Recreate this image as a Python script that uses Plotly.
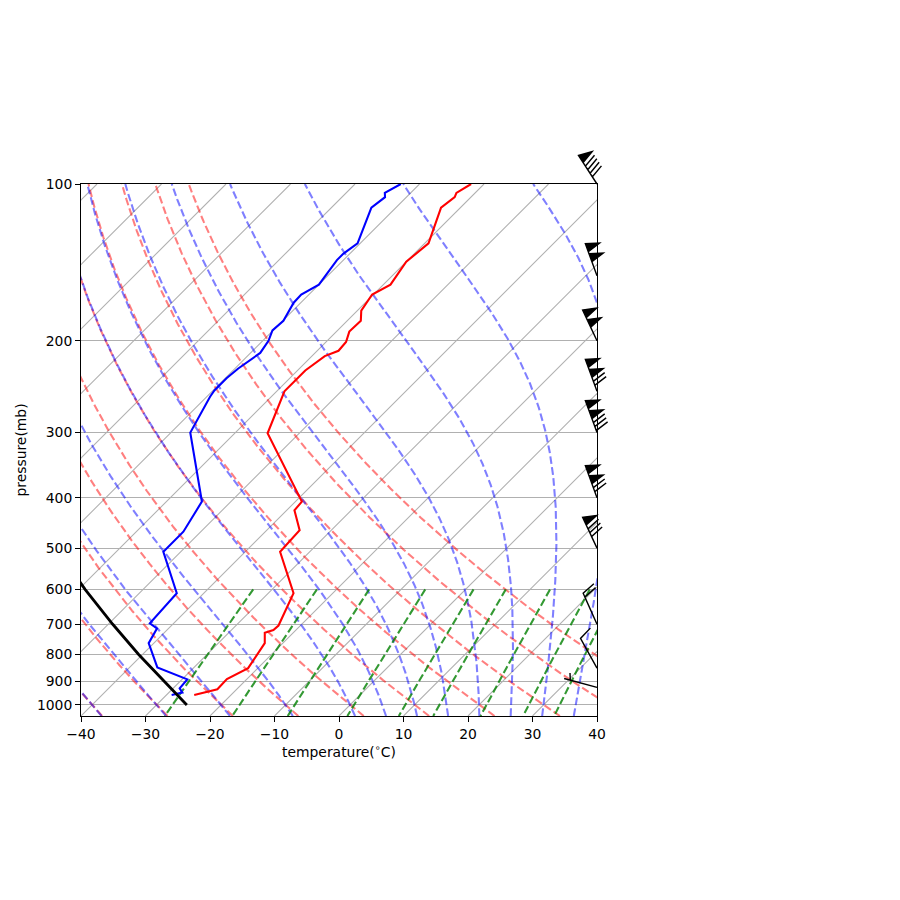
import numpy as np
import plotly.graph_objects as go

# ---------------- data ----------------
temp_p = [957, 933, 892, 850, 761, 727, 718, 704, 610, 508, 462, 423, 407, 301, 250, 228,
          214, 209, 201, 192, 183, 175, 163, 156, 141, 130, 111, 106, 104, 100]
temp_c = [-25.7, -23.0, -23.1, -21.5, -22.8, -24.4, -23.5, -23.4, -26.1, -34.6, -34.9, -38.8,
          -39.0, -54.9, -58.8, -58.8, -58.0, -56.7, -56.9, -58.0, -57.9, -59.4, -60.2, -58.9,
          -60.0, -59.4, -63.0, -62.5, -62.9, -62.0]

dewp_p = [957, 947, 929, 893, 847, 761, 713, 697, 610, 508, 465, 407, 300, 256, 249, 236,
          226, 211, 200, 191, 183, 169, 163, 156, 140, 136, 130, 111, 106, 104, 100]
dewp_c = [-29.2, -27.9, -29.0, -29.2, -35.7, -40.8, -41.8, -43.7, -44.2, -52.7, -52.7, -54.5,
          -67.0, -69.5, -69.8, -69.8, -69.5, -68.5, -69.1, -70.1, -69.9, -71.1, -71.2, -70.0,
          -71.0, -71.0, -70.4, -73.8, -73.3, -74.0, -72.9]

parcel_p = [1000, 900, 800, 700, 600, 500]
parcel_c = [-25.3, -32.6, -40.6, -49.3, -59.0, -69.8]

barb_p = [100, 150, 200, 250, 300, 400, 500, 700, 850, 925]
barb_kt = [90, 100, 100, 120, 130, 120, 80, 20, 10, 5]
barb_dir = [327, 340, 335, 340, 340, 340, 335, 336, 331, 285]

x_ticks = [-40, -30, -20, -10, 0, 10, 20, 30, 40]
y_ticks = [100, 200, 300, 400, 500, 600, 700, 800, 900, 1000]

isotherm_t = list(range(-120, 41, 10))
dry_t0 = [-40, -30, -20, -10, 0, 10, 20, 30, 40, 50]
moist_t0 = [-40, -30, -20, -10, 0, 5, 10, 15, 20, 25, 30, 35, 40, 45, 50]
mix_w = [0.0004, 0.001, 0.002, 0.004, 0.007, 0.01, 0.016, 0.024, 0.032]

# ---------------- geometry ----------------
W = H = 900
PAGE_OFF = 8                      # default body margin of the html page
ML, MT, PW, PH = 81 - PAGE_OFF, 184 - PAGE_OFF, 516, 532
XMIN, XMAX = -40, 40
PBOT, PTOP = 1050.0, 100.0
SKEW = (XMAX - XMIN) * PH / PW      # 45 degree skew in screen space

def ya(p):
    return np.log10(PBOT / np.asarray(p, float)) / np.log10(PBOT / PTOP)

def sx(t, p):
    return np.asarray(t, float) + SKEW * ya(p)

# thermodynamic helpers for reference lines
RD, CP, LV, EPS = 287.04749, 1004.6662, 2.50084e6, 0.6219569
KAPPA = RD / CP

def sat_mr(p, t):
    es = 6.112 * np.exp(17.67 * (t - 273.15) / (t - 29.65))
    return EPS * es / (p - es)

def dtdp(p, t):
    rs = sat_mr(p, t)
    return (RD * t + LV * rs) / (CP + LV * LV * rs * EPS / (RD * t * t)) / p

def moist_lapse(pgrid, t0k, pref=1000.0):
    i0 = int(np.argmin(np.abs(pgrid - pref)))
    out = np.zeros((len(t0k), len(pgrid)))
    out[:, i0] = t0k
    for rng in (range(i0, len(pgrid) - 1), range(i0, 0, -1)):
        for i in rng:
            j = i + 1 if rng.step > 0 else i - 1
            p, t = pgrid[i], out[:, i]
            h = pgrid[j] - p
            k1 = dtdp(p, t)
            k2 = dtdp(p + h / 2, t + h / 2 * k1)
            k3 = dtdp(p + h / 2, t + h / 2 * k2)
            k4 = dtdp(p + h, t + h * k3)
            out[:, j] = t + h / 6 * (k1 + 2 * k2 + 2 * k3 + k4)
    return out

fig = go.Figure()

def add_line(t, p, color, width, dash="solid"):
    fig.add_trace(go.Scatter(x=sx(t, p), y=np.asarray(p, float), mode="lines",
                             line=dict(color=color, width=width, dash=dash),
                             hoverinfo="skip", showlegend=False))

# isotherm grid
for t in isotherm_t:
    add_line([t, t], [PBOT, PTOP], "#b0b0b0", 1.1)

DASH = "7.7px,3.3px"
pg = np.linspace(PBOT, PTOP, 951)
# dry adiabats
for t0 in dry_t0:
    tt = (t0 + 273.15) * (pg / 1000.0) ** KAPPA - 273.15
    add_line(tt, pg, "rgba(255,0,0,0.5)", 2.08, DASH)
# moist adiabats
ml = moist_lapse(pg, np.array(moist_t0, float) + 273.15) - 273.15
for row in ml:
    add_line(row, pg, "rgba(0,0,255,0.5)", 2.08, DASH)
# mixing ratio lines
pm = np.linspace(600, PBOT, 50)
for w in mix_w:
    e = pm * w / (EPS + w)
    val = np.log(e / 6.112)
    td = 243.5 * val / (17.67 - val)
    add_line(td, pm, "rgba(0,128,0,0.8)", 2.08, DASH)

# sounding
add_line(temp_c, temp_p, "#ff0000", 2.08)
add_line(dewp_c, dewp_p, "#0000ff", 2.08)
add_line(parcel_c, parcel_p, "#000000", 2.78)

# ---------------- wind barbs (matplotlib geometry) ----------------
K = 3.5 * 100 / 72.0
BL = 7 * K
SP, BH, BW = 0.125 * BL, 0.4 * BL, 0.25 * BL

def barb_verts(u, v):
    mag = 5 * np.round(np.hypot(u, v) / 5)
    nflag = int(mag // 50); mag -= nflag * 50
    nbarb = int(mag // 10); mag -= nbarb * 10
    half = mag >= 5
    verts = [(0.0, 0.0)]
    off = BL
    for i in range(nflag):
        if off != BL:
            off += SP / 2
        verts += [(0, off), (BH, off - BW / 2), (0, off - BW)]
        off -= BW + SP
    for i in range(nbarb):
        verts += [(0, off), (BH, off + BW / 2), (0, off)]
        off -= SP
    if half:
        if off == BL:
            verts.append((0, off))
            off -= 1.5 * SP
        verts += [(0, off), (BH / 2, off + BW / 4), (0, off)]
    ang = np.arctan2(v, u) + np.pi / 2
    c, s = np.cos(ang), np.sin(ang)
    return [(x * c - y * s, x * s + y * c) for x, y in verts]

shapes = []
for p, spd, d in zip(barb_p, barb_kt, barb_dir):
    u = -spd * np.sin(np.radians(d))
    v = -spd * np.cos(np.radians(d))
    y0 = float(ya(p))
    pts = [(1 + x / PW, y0 + y / PH) for x, y in barb_verts(u, v)]
    path = "M " + " L ".join(f"{x:.5f},{y:.5f}" for x, y in pts) + " Z"
    shapes.append(dict(type="path", xref="paper", yref="paper", path=path,
                       fillcolor="black", line=dict(color="black", width=1.4),
                       layer="above"))

FONT = dict(family="DejaVu Sans", size=13.9, color="black")
fig.update_layout(
    width=W, height=H, autosize=False,
    margin=dict(l=ML, r=W - ML - PW, t=MT, b=H - MT - PH, pad=0),
    paper_bgcolor="white", plot_bgcolor="white",
    font=FONT, shapes=shapes, showlegend=False,
    xaxis=dict(range=[XMIN, XMAX], tickvals=x_ticks,
               ticktext=[str(t).replace("-", "\u2212") for t in x_ticks],
               showgrid=False, zeroline=False, showline=True, linecolor="black",
               linewidth=1.1, mirror=True, ticks="outside", ticklen=4.9, tickwidth=1.1,
               tickcolor="black", tickfont=FONT,
               title=dict(text="temperature(<sup>\u2218</sup>C)", font=FONT, standoff=6)),
    yaxis=dict(type="log", range=[np.log10(PBOT), np.log10(PTOP)], tickvals=y_ticks,
               ticktext=[str(t) for t in y_ticks],
               showgrid=True, gridcolor="#b0b0b0", gridwidth=1.1, zeroline=False,
               showline=True, linecolor="black", linewidth=1.1, mirror=True,
               ticks="outside", ticklen=4.9, tickwidth=1.1, tickcolor="black",
               tickfont=FONT,
               title=dict(text="pressure(mb)", font=FONT, standoff=7)),
)

fig.write_html("out.html")
